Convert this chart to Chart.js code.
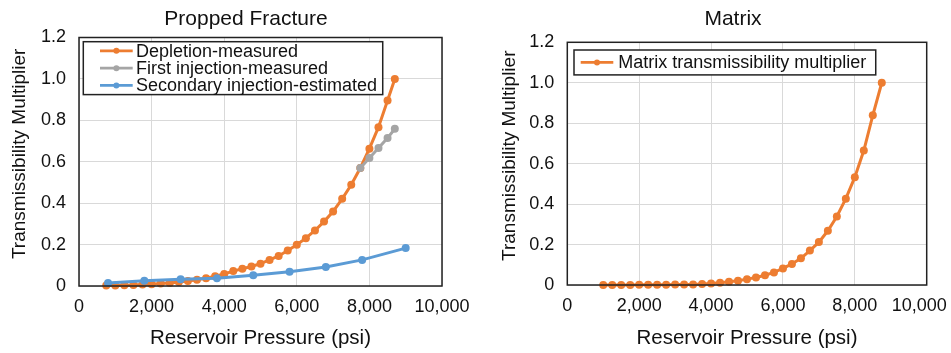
<!DOCTYPE html>
<html>
<head>
<meta charset="utf-8">
<script src="https://cdn.jsdelivr.net/npm/chart.js@4.4.1/dist/chart.umd.min.js"></script>
<style>
  html, body { margin: 0; padding: 0; background: #fff; overflow: hidden; width: 951px; height: 353px; }
  canvas { position: absolute; top: 0; }
  #fracChart { left: 0; }
  #matrixChart { left: 490px; }
</style>
</head>
<body>
<canvas id="fracChart" width="492" height="353"></canvas>
<canvas id="matrixChart" width="486" height="353"></canvas>
<script>
// --- Propped fracture ---
const depletionPressure = [750, 1000, 1250, 1500, 1750, 2000, 2250, 2500, 2750, 3000, 3250, 3500, 3750, 4000, 4250, 4500,
  4750, 5000, 5250, 5500, 5750, 6000, 6250, 6500, 6750, 7000, 7250, 7500, 7750, 8000, 8250, 8500, 8700];
const depletionMult = [0.002, 0.003, 0.004, 0.005, 0.007, 0.009, 0.012, 0.015, 0.019, 0.024, 0.030, 0.038, 0.047, 0.058, 0.072, 0.083,
  0.094, 0.108, 0.126, 0.145, 0.171, 0.199, 0.231, 0.268, 0.311, 0.360, 0.421, 0.489, 0.570, 0.663, 0.767, 0.896, 1.0];

const firstInjPressure = [7750, 8000, 8250, 8500, 8700];
const firstInjMult = [0.570, 0.618, 0.667, 0.715, 0.759];

const secondInjPressure = [800, 1800, 2800, 3800, 4800, 5800, 6800, 7800, 9000];
const secondInjMult = [0.015, 0.025, 0.032, 0.038, 0.052, 0.069, 0.092, 0.126, 0.183];

// --- Matrix ---
const matrixPressure = [1000, 1250, 1500, 1750, 2000, 2250, 2500, 2750, 3000, 3250, 3500, 3750, 4000, 4250, 4500, 4750,
  5000, 5250, 5500, 5750, 6000, 6250, 6500, 6750, 7000, 7250, 7500, 7750, 8000, 8250, 8500, 8750];
const matrixMult = [0.000, 0.000, 0.000, 0.000, 0.001, 0.001, 0.001, 0.001, 0.002, 0.002, 0.003, 0.005, 0.008, 0.011, 0.016, 0.021,
  0.029, 0.037, 0.048, 0.062, 0.082, 0.104, 0.132, 0.170, 0.212, 0.268, 0.339, 0.427, 0.533, 0.665, 0.839, 1.0];

const xTickLabels = ['0', '2,000', '4,000', '6,000', '8,000', '10,000'];
const yTickLabels = ['0', '0.2', '0.4', '0.6', '0.8', '1.0', '1.2'];

const FONT = '"Liberation Sans", Arial, Helvetica, sans-serif';
const TEXT = '#111';
const ORANGE = '#ED7D31', GRAY = '#A5A5A5', BLUE = '#5B9BD5';

const toPoints = (xs, ys) => xs.map((x, i) => ({ x, y: ys[i] }));

function series(label, xs, ys, color, order) {
  return {
    label,
    data: toPoints(xs, ys),
    borderColor: color,
    backgroundColor: color,
    pointBackgroundColor: color,
    pointBorderColor: color,
    borderWidth: 3,
    pointRadius: 4,
    pointBorderWidth: 0,
    tension: 0,
    clip: false,
    order
  };
}

// frame round the plot plus an Excel-like legend box inside it
const framePlugin = {
  id: 'frame',
  afterDatasetsDraw(chart, args, opts) {
    const { ctx, chartArea: a } = chart;
    ctx.save();
    ctx.strokeStyle = '#222';
    ctx.lineWidth = 1.5;
    ctx.strokeRect(a.left, a.top, a.right - a.left, a.bottom - a.top);

    const items = chart.data.datasets.map(d => ({ label: d.label, color: d.borderColor }));
    ctx.font = '18px ' + FONT;
    const textW = Math.max(...items.map(it => ctx.measureText(it.label).width));
    const x0 = a.left + opts.dx, y0 = a.top + opts.dy;
    const w = opts.textX + textW + opts.padRight;
    const h = opts.padV * 2 + items.length * opts.rowH;
    ctx.fillStyle = '#fff';
    ctx.fillRect(x0, y0, w, h);
    ctx.strokeRect(x0, y0, w, h);
    items.forEach((it, i) => {
      const cy = y0 + opts.padV + opts.rowH * (i + 0.5);
      ctx.strokeStyle = it.color;
      ctx.lineWidth = 2.75;
      ctx.beginPath();
      ctx.moveTo(x0 + opts.lineX, cy);
      ctx.lineTo(x0 + opts.lineX + opts.lineLen, cy);
      ctx.stroke();
      ctx.fillStyle = it.color;
      ctx.beginPath();
      ctx.arc(x0 + opts.lineX + opts.lineLen / 2, cy, 3, 0, Math.PI * 2);
      ctx.fill();
      ctx.fillStyle = TEXT;
      ctx.textBaseline = 'middle';
      ctx.textAlign = 'left';
      ctx.fillText(it.label, x0 + opts.textX, cy + 1);
    });
    ctx.restore();
  }
};

function makeChart(id, title, datasets, geo) {
  const ctx = document.getElementById(id).getContext('2d');
  return new Chart(ctx, {
    type: 'line',
    data: { datasets },
    plugins: [framePlugin],
    options: {
      responsive: false,
      animation: false,
      layout: { padding: 0 },
      plugins: {
        legend: { display: false },
        tooltip: { enabled: false },
        title: {
          display: true,
          text: title,
          color: TEXT,
          font: { family: FONT, size: 21, weight: 'normal' },
          padding: { top: 6.4, bottom: geo.titleBottom }
        },
        frame: geo.legend
      },
      scales: {
        x: {
          type: 'linear',
          min: 0,
          max: 10000,
          afterFit: s => { s.height = geo.xHeight; },
          afterBuildTicks: s => { s.ticks = xTickLabels.map((t, i) => ({ value: i * 2000 })); },
          ticks: {
            autoSkip: false,
            maxRotation: 0,
            padding: 10,
            color: TEXT,
            font: { family: FONT, size: 18 },
            callback: (v, i) => xTickLabels[i] + (i === xTickLabels.length - 1 ? geo.lastPad : '')
          },
          grid: { color: '#d9d9d9', lineWidth: 1, drawTicks: false },
          border: { display: false },
          title: {
            display: true,
            text: 'Reservoir Pressure (psi)',
            color: TEXT,
            font: { family: FONT, size: 20.5 },
            padding: { top: 0, bottom: 2.7 }
          }
        },
        y: {
          min: 0,
          max: 1.2,
          afterFit: s => { s.width = geo.yWidth; },
          afterBuildTicks: s => { s.ticks = yTickLabels.map((t, i) => ({ value: i * 0.2 })); },
          ticks: {
            padding: 13,
            color: TEXT,
            font: { family: FONT, size: 18 },
            callback: (v, i) => yTickLabels[i]
          },
          grid: { color: '#d9d9d9', lineWidth: 1, drawTicks: false },
          border: { display: false },
          title: {
            display: true,
            // leading spaces nudge the rotated title up a little, as in the source figure
            text: '\u00a0\u00a0\u00a0Transmissibility Multiplier',
            color: TEXT,
            font: { family: FONT, size: 19 },
            padding: { top: 8.6, bottom: 0 }
          }
        },
        // empty right-hand axis that only reserves space, so the title stays centred on the whole panel
        spacer: {
          position: 'right',
          afterFit: s => { s.width = geo.rightGap; },
          ticks: { display: false },
          grid: { display: false, drawTicks: false },
          border: { display: false }
        }
      }
    }
  });
}

makeChart('fracChart', 'Propped Fracture', [
  series('Depletion-measured', depletionPressure, depletionMult, ORANGE, 2),
  series('First injection-measured', firstInjPressure, firstInjMult, GRAY, 1),
  series('Secondary injection-estimated', secondInjPressure, secondInjMult, BLUE, 0)
], {
  rightGap: 50, titleBottom: 5.9, xHeight: 67, yWidth: 79, lastPad: '',
  legend: { dx: 4.3, dy: 4.2, lineX: 16.7, lineLen: 32.7, textX: 52.7, padRight: 5.6, padV: 0.5, rowH: 17.3 }
});

makeChart('matrixChart', 'Matrix', [
  series('Matrix transmissibility multiplier', matrixPressure, matrixMult, ORANGE, 0)
], {
  rightGap: 49.3, titleBottom: 10.7, xHeight: 68, yWidth: 77.3, lastPad: '\u00a0\u00a0\u00a0',
  legend: { dx: 6.7, dy: 7.7, lineX: 6.7, lineLen: 32.6, textX: 44.3, padRight: 9.4, padV: 3.8, rowH: 17.3 }
});
</script>
</body>
</html>
